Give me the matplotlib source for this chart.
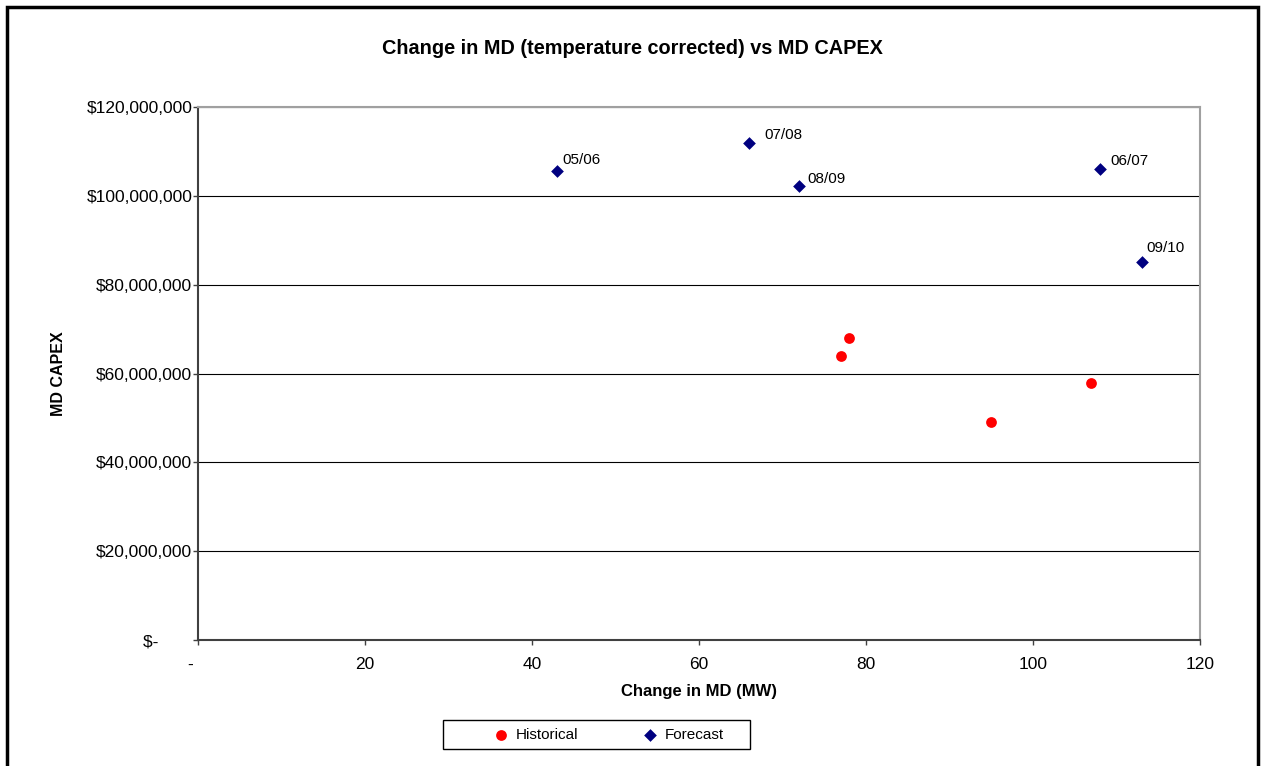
import matplotlib
matplotlib.use('Agg')
import matplotlib.pyplot as plt
from matplotlib.patches import Rectangle
from matplotlib.ticker import FuncFormatter

plt.rcParams['font.family'] = ['Liberation Sans', 'DejaVu Sans']

# Historical points
hist_mw = [78, 77, 95, 107]
hist_capex = [68.1e6, 63.9e6, 49.1e6, 57.9e6]

# Forecast points
fc_labels = ['05/06', '07/08', '08/09', '06/07', '09/10']
fc_mw = [43, 66, 72, 108, 113]
fc_capex = [105.6e6, 111.9e6, 102.2e6, 106.0e6, 85.1e6]

x_ticks = [0, 20, 40, 60, 80, 100, 120]
y_ticks = [0, 20e6, 40e6, 60e6, 80e6, 100e6, 120e6]

# label offsets (points)
lab_off = {'05/06': (3.6, 7.9), '07/08': (10.8, 5.8), '08/09': (5.8, 5.0),
           '06/07': (7.9, 5.8), '09/10': (3.6, 10.0)}

fig = plt.figure(figsize=(12.64, 7.66), dpi=100)
W, H = 1264, 766
ax = fig.add_axes([198 / W, 1 - 640 / H, (1200 - 198) / W, (640 - 107) / H])

ax.scatter(hist_mw, hist_capex, marker='o', s=60, color='#ff0000', label='Historical', zorder=3, linewidths=0)
ax.scatter(fc_mw, fc_capex, marker='D', s=42, color='#000080', label='Forecast', zorder=3, linewidths=0)
for lab, x, y in zip(fc_labels, fc_mw, fc_capex):
    ax.annotate(lab, (x, y), xytext=lab_off[lab], textcoords='offset points',
                fontsize=11, ha='left', va='center')

ax.set_xlim(0, 120)
ax.set_ylim(0, 120e6)
ax.set_xticks(x_ticks)
ax.set_yticks(y_ticks)
ax.xaxis.set_major_formatter(FuncFormatter(lambda v, p: '-   ' if v == 0 else f'{v:.0f}'))
ax.yaxis.set_major_formatter(FuncFormatter(lambda v, p: '$-       ' if v == 0 else f'${v:,.0f}'))
ax.tick_params(labelsize=12.5, length=3.6, width=1, color='#404040', direction='out')
ax.tick_params(axis='x', pad=8.5)
ax.tick_params(axis='y', pad=0.5)
ax.grid(axis='y', color='black', linewidth=0.8)
ax.set_axisbelow(True)
for s in ['left', 'bottom']:
    ax.spines[s].set_color('#404040')
    ax.spines[s].set_linewidth(1.5)
for s in ['top', 'right']:
    ax.spines[s].set_color('#a0a0a0')
    ax.spines[s].set_linewidth(1.5)

ax.set_xlabel('Change in MD (MW)', fontsize=12, fontweight='bold', labelpad=9)
ax.set_ylabel('MD CAPEX', fontsize=11.5, fontweight='bold')
ax.yaxis.set_label_coords((66 - 198) / (1200 - 198), 0.5)
fig.text(632 / W, 1 - 48 / H, 'Change in MD (temperature corrected) vs MD CAPEX',
         ha='center', va='center', fontsize=14.3, fontweight='bold')

leg = ax.legend(loc='center', bbox_to_anchor=((607 - 198) / (1200 - 198), -(735 - 640) / (640 - 107)),
                ncol=2, fontsize=11, frameon=False, columnspacing=3.95, handletextpad=0.2,
                handlelength=1.5)
# legend box
fig.patches.append(Rectangle((443 / W, 1 - 749 / H), (750 - 443) / W, 29 / H,
                             transform=fig.transFigure, fill=False, edgecolor='black', linewidth=1))

# outer chart border
fig.patches.append(Rectangle((7 / W, -0.05), (1258 - 7) / W, 1 - 7 / H + 0.05,
                             transform=fig.transFigure, fill=False, edgecolor='black', linewidth=2.5))

fig.savefig('out.png', dpi=100)
